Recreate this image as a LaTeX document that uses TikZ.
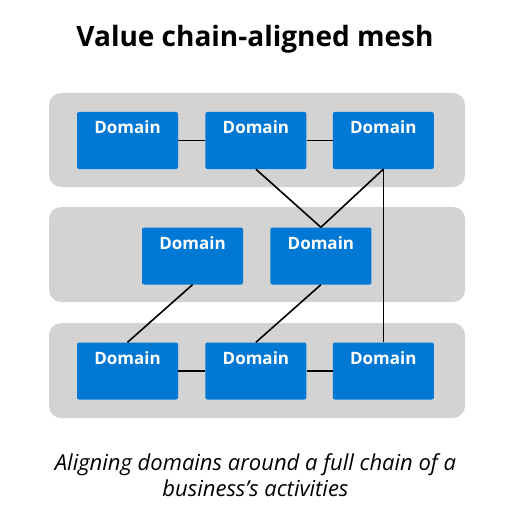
\documentclass[tikz,border=0pt]{standalone}
\usepackage{fontspec}
\setmainfont{Open Sans}
\usetikzlibrary{positioning}

\begin{document}
\begin{tikzpicture}[x=1pt, y=-1pt,
    domainbox/.style={fill=domainblue, minimum width=101pt, minimum height=57pt, inner sep=0pt, rounded corners=2pt,
        label={[font=\fontsize{17}{19}\selectfont\bfseries, text=white, anchor=north, inner sep=0pt, yshift=-9pt]north:Domain}},
    band/.style={fill=bandgray, rounded corners=12pt},
    link/.style={line width=1.6pt, black}
]

    % Define colors
    \definecolor{bandgray}{RGB}{211, 211, 211}
    \definecolor{domainblue}{RGB}{0, 120, 212}

    \useasboundingbox (0,0) rectangle (521,524);

    % Title
    \node[anchor=base, font=\fontsize{28}{34}\selectfont\bfseries] (title) at (255,47) {Value chain-aligned mesh};

    % Bands
    \fill[band] (49,93) rectangle (465,187);
    \fill[band] (49,207) rectangle (465,302);
    \fill[band] (49,323) rectangle (465,418);

    % Top row
    \node[domainbox] (t1) at (127.5,140.5) {};
    \node[domainbox, right=27pt of t1] (t2) {};
    \node[domainbox, right=26pt of t2] (t3) {};

    % Middle row
    \node[domainbox] (m1) at (192.5,256) {};
    \node[domainbox, right=27pt of m1] (m2) {};

    % Bottom row
    \node[domainbox] (b1) at (127.5,371) {};
    \node[domainbox, right=27pt of b1] (b2) {};
    \node[domainbox, right=26pt of b2] (b3) {};

    % Links
    \draw[link] (t1) -- (t2);
    \draw[link] (t2) -- (t3);
    \draw[link] (b1) -- (b2);
    \draw[link] (b2) -- (b3);
    \draw[link] (t2.south) -- (m2.north);
    \draw[link] (t3.south) -- (m2.north);
    \draw[link] (t3.south) -- (b3.north);
    \draw[link] (m1.south) -- (b1.north);
    \draw[link] (m2.south) -- (b2.north);

    % Caption
    \node[align=center, font=\fontsize{22}{26}\selectfont\itshape] (caption) at (255.5,475) {Aligning domains around a full chain of a\\business's activities};

\end{tikzpicture}
\end{document}
